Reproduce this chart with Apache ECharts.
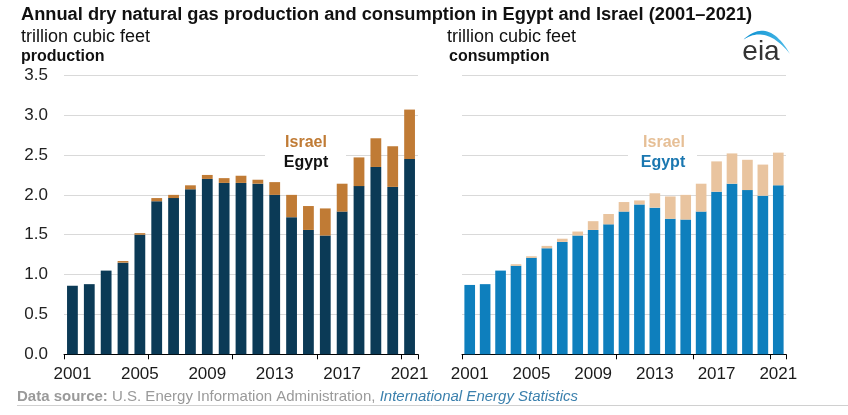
<!DOCTYPE html>
<html><head><meta charset="utf-8">
<script src="https://cdn.jsdelivr.net/npm/echarts@6/dist/echarts.min.js"></script>
<style>html,body{margin:0;padding:0;background:#fff}#c{width:848px;height:415px}</style>
</head><body><div id="c"></div>
<script>
const years = ['2001','2002','2003','2004','2005','2006','2007','2008','2009','2010','2011','2012','2013','2014','2015','2016','2017','2018','2019','2020','2021'];
const prodEgypt  = [0.86,0.88,1.05,1.15,1.50,1.92,1.96,2.07,2.20,2.15,2.15,2.14,2.00,1.72,1.56,1.49,1.79,2.11,2.35,2.10,2.45];
const prodIsrael = [0.00,0.00,0.00,0.02,0.02,0.04,0.04,0.05,0.05,0.06,0.09,0.05,0.16,0.28,0.30,0.34,0.35,0.36,0.36,0.51,0.62];
const consEgypt  = [0.87,0.88,1.05,1.11,1.21,1.33,1.41,1.49,1.56,1.63,1.79,1.88,1.84,1.70,1.69,1.79,2.04,2.14,2.06,1.99,2.12];
const consIsrael = [0.00,0.00,0.00,0.02,0.02,0.03,0.04,0.05,0.11,0.13,0.12,0.05,0.18,0.28,0.31,0.35,0.38,0.38,0.38,0.39,0.41];
const yTicks = [0,0.5,1,1.5,2,2.5,3,3.5];

const FONT = '"Liberation Sans", Arial, sans-serif';
const chart = echarts.init(document.getElementById('c'), null, {renderer:'canvas'});

function xAx(gi){
  return {type:'category', gridIndex:gi, data:years, boundaryGap:true,
    axisLine:{show:true, lineStyle:{color:'#000', width:1}},
    axisTick:{show:true, interval:4, length:5, lineStyle:{color:'#000'}},
    axisLabel:{interval:3, color:'#1a1a1a', fontSize:17, fontFamily:FONT, margin:12}};
}
function yAx(gi, showLabels){
  return {type:'value', gridIndex:gi, min:yTicks[0], max:yTicks[yTicks.length-1], interval:0.5,
    axisLine:{show:false}, axisTick:{show:false},
    splitLine:{show:true, lineStyle:{color:'#d9d9d9', width:1}},
    axisLabel:{show:showLabels, color:'#222', fontSize:17, fontFamily:FONT, margin:16,
      formatter:v=>v.toFixed(1)}};
}

// crescent swoosh for the logo (decoration)
function quad(p0,p1,p2,n){const pts=[];for(let i=0;i<=n;i++){const t=i/n,a=(1-t)*(1-t),b=2*(1-t)*t,c=t*t;pts.push([a*p0[0]+b*p1[0]+c*p2[0],a*p0[1]+b*p1[1]+c*p2[1]]);}return pts;}
const swoosh = quad([743,40],[768,16],[790,54],24).concat(quad([790,54],[766,24],[743,40],24));

chart.setOption({
  animation:false,
  textStyle:{fontFamily:FONT},
  grid:[
    {left:64, right:430, top:75.3, bottom:60.7},
    {left:462, right:62, top:75.3, bottom:60.7}
  ],
  xAxis:[xAx(0), xAx(1)],
  yAxis:[yAx(0,true), yAx(1,false)],
  series:[
    {name:'Egypt production', type:'bar', stack:'p', xAxisIndex:0, yAxisIndex:0, data:prodEgypt,
      barCategoryGap:'36%', itemStyle:{color:'#0b3a56'}},
    {name:'Israel production', type:'bar', stack:'p', xAxisIndex:0, yAxisIndex:0, data:prodIsrael,
      itemStyle:{color:'#c07b35'}},
    {name:'Egypt consumption', type:'bar', stack:'c', xAxisIndex:1, yAxisIndex:1, data:consEgypt,
      barCategoryGap:'31%', itemStyle:{color:'#0e7fbd'}},
    {name:'Israel consumption', type:'bar', stack:'c', xAxisIndex:1, yAxisIndex:1, data:consIsrael,
      itemStyle:{color:'#e9c49f'}}
  ],
  graphic:[
    {type:'text', x:21, y:15, style:{text:'Annual dry natural gas production and consumption in Egypt and Israel (2001\u20132021)', font:'bold 18.25px '+FONT, fill:'#111', verticalAlign:'middle'}},
    {type:'text', x:21, y:37, style:{text:'trillion cubic feet', font:'18px '+FONT, fill:'#111', verticalAlign:'middle'}},
    {type:'text', x:21, y:57, style:{text:'production', font:'bold 16px '+FONT, fill:'#111', verticalAlign:'middle'}},
    {type:'text', x:447, y:37, style:{text:'trillion cubic feet', font:'18px '+FONT, fill:'#111', verticalAlign:'middle'}},
    {type:'text', x:449, y:57, style:{text:'consumption', font:'bold 16px '+FONT, fill:'#111', verticalAlign:'middle'}},
    {type:'rect', z:10, shape:{x:265, y:134, width:81, height:38}, style:{fill:'#fff'}},
    {type:'text', z:11, x:306, y:143, style:{text:'Israel', font:'bold 16px '+FONT, fill:'#c07b35', align:'center', verticalAlign:'middle'}},
    {type:'text', z:11, x:306, y:163, style:{text:'Egypt', font:'bold 16px '+FONT, fill:'#111', align:'center', verticalAlign:'middle'}},
    {type:'rect', z:10, shape:{x:628, y:134, width:69, height:38}, style:{fill:'#fff'}},
    {type:'text', z:11, x:664, y:143, style:{text:'Israel', font:'bold 16px '+FONT, fill:'#e6bf96', align:'center', verticalAlign:'middle'}},
    {type:'text', z:11, x:663, y:163, style:{text:'Egypt', font:'bold 16px '+FONT, fill:'#1a77b0', align:'center', verticalAlign:'middle'}},
    {type:'polygon', z:11, shape:{points:swoosh},
      style:{fill:{type:'linear', x:0, y:0, x2:1, y2:0, colorStops:[{offset:0,color:'#0a8fd0'},{offset:1,color:'#4dbbe8'}]}}},
    {type:'text', z:11, x:761, y:52, style:{text:'eia', font:'28px '+FONT, fill:'#333', align:'center', verticalAlign:'middle'}},
    {type:'text', x:17, y:397, style:{verticalAlign:'middle', rich:{
        b:{fontWeight:'bold', fontSize:15, fontFamily:FONT, fill:'#9a9a9a'},
        r:{fontSize:15, fontFamily:FONT, fill:'#9a9a9a'},
        i:{fontStyle:'italic', fontSize:15, fontFamily:FONT, fill:'#3b80ad'}},
      text:'{b|Data source:}{r| U.S. Energy Information Administration, }{i|International Energy Statistics}'}},
    {type:'line', shape:{x1:17, y1:405.5, x2:848, y2:405.5}, style:{stroke:'#d0d0d0', lineWidth:1}}
  ]
});
</script></body></html>
